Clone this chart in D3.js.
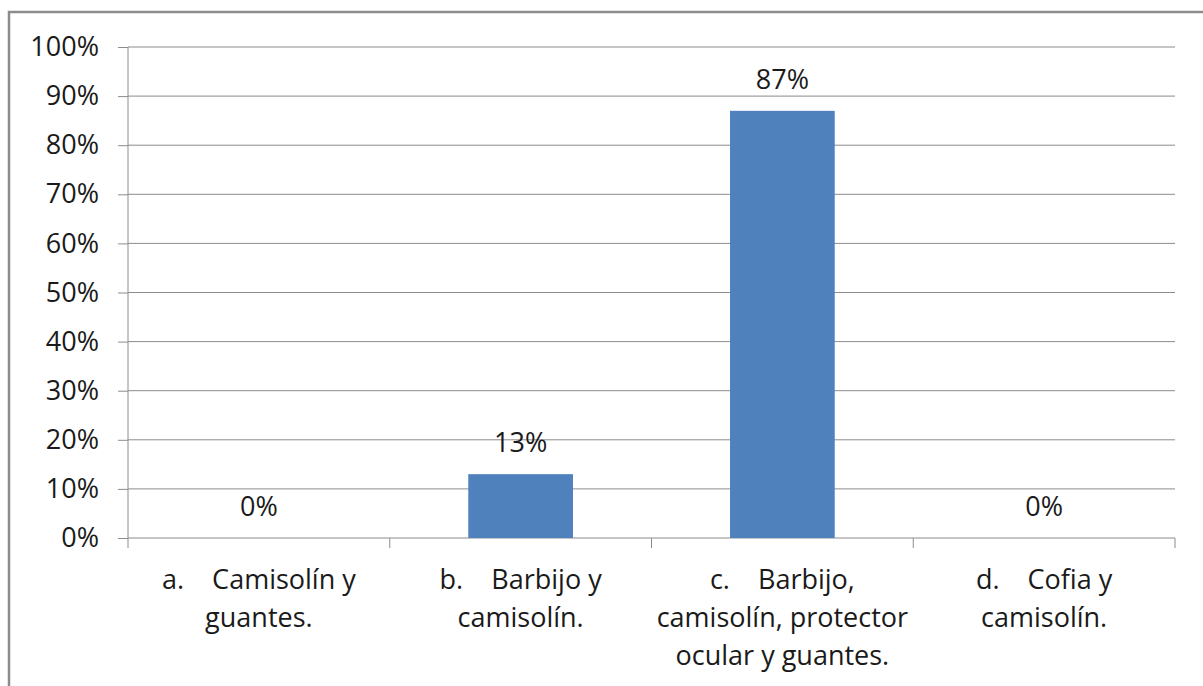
<!DOCTYPE html>
<html>
<head>
<meta charset="utf-8">
<script src="https://cdn.jsdelivr.net/npm/d3@7"></script>
<style>
  body { margin: 0; background: #fff; }
  svg text { font-family: "Open Sans", "Liberation Sans", sans-serif; fill: #1a1a1a; }
</style>
</head>
<body>
<svg></svg>
<script>
let width = 1203
let height = 686

// chart data
let categories = ['a', 'b', 'c', 'd']
let values = [0, 13, 87, 0]
let categoryLines = [
  ['a.    Camisolín y', 'guantes.'],
  ['b.    Barbijo y', 'camisolín.'],
  ['c.    Barbijo,', 'camisolín, protector', 'ocular y guantes.'],
  ['d.    Cofia y', 'camisolín.']
]
let yTicks = [0, 10, 20, 30, 40, 50, 60, 70, 80, 90, 100]

let plot = { left: 128, right: 1175, top: 47, bottom: 538 }
let fontSize = '27px'

let svg = d3.select('svg')
  .attr('width', width)
  .attr('height', height)

// outer frame
svg.append('rect')
  .attr('x', 9)
  .attr('y', 12)
  .attr('width', width + 10)
  .attr('height', height + 10)
  .attr('fill', 'none')
  .attr('stroke', '#8c8c8c')
  .attr('stroke-width', 2.5)

let xScale = d3.scaleBand()
  .domain(categories)
  .range([plot.left, plot.right])
  .paddingInner(0.6)
  .paddingOuter(0.3)

let yScale = d3.scaleLinear()
  .domain([0, 100])
  .range([plot.bottom, plot.top])

// y axis with gridlines
let yAxis = d3.axisLeft(yScale)
  .tickValues(yTicks)
  .tickSize(10)
  .tickPadding(19)
  .tickFormat(d => d + '%')

let yg = svg.append('g')
  .attr('transform', `translate(${plot.left}, 0)`)
  .call(yAxis)
yg.select('.domain').attr('stroke', '#8c8c8c').attr('d', `M0,${plot.top}V${plot.bottom}`)
yg.selectAll('.tick line').attr('stroke', '#8c8c8c')
yg.selectAll('.tick text')
  .style('font-size', fontSize)
  .attr('fill', '#1a1a1a')

svg.append('g')
  .selectAll('line')
  .data(yTicks)
  .enter()
  .append('line')
    .attr('x1', plot.left)
    .attr('x2', plot.right)
    .attr('y1', d => yScale(d))
    .attr('y2', d => yScale(d))
    .attr('stroke', '#8c8c8c')
    .attr('stroke-width', 1)

// category tick marks on the baseline
let step = xScale.step()
let boundaries = d3.range(categories.length + 1).map(i => plot.left + i * step)
svg.append('g')
  .selectAll('line')
  .data(boundaries)
  .enter()
  .append('line')
    .attr('x1', d => d)
    .attr('x2', d => d)
    .attr('y1', plot.bottom)
    .attr('y2', plot.bottom + 10)
    .attr('stroke', '#8c8c8c')

// bars
svg.append('g')
  .selectAll('rect')
  .data(values)
  .enter()
  .append('rect')
    .attr('x', (d, i) => xScale(categories[i]))
    .attr('y', d => yScale(d))
    .attr('width', xScale.bandwidth())
    .attr('height', d => plot.bottom - yScale(d))
    .attr('fill', '#4f81bd')

// value labels
svg.append('g')
  .selectAll('text')
  .data(values)
  .enter()
  .append('text')
    .attr('x', (d, i) => xScale(categories[i]) + xScale.bandwidth() / 2)
    .attr('y', d => yScale(d) - 22)
    .style('text-anchor', 'middle')
    .style('font-size', fontSize)
    .text(d => d + '%')

// category labels
let labels = svg.append('g')
  .selectAll('text')
  .data(categoryLines)
  .enter()
  .append('text')
    .attr('x', (d, i) => xScale(categories[i]) + xScale.bandwidth() / 2)
    .attr('y', 589)
    .style('text-anchor', 'middle')
    .style('font-size', fontSize)
    .style('white-space', 'pre')

labels.selectAll('tspan')
  .data(d => d)
  .enter()
  .append('tspan')
    .attr('x', function () { return d3.select(this.parentNode).attr('x') })
    .attr('dy', (d, i) => i === 0 ? 0 : 38)
    .text(d => d)
</script>
</body>
</html>
